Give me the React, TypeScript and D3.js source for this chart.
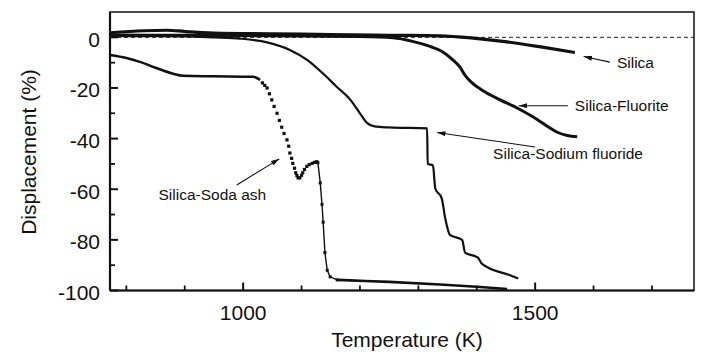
import * as d3 from "d3";

// Silica
const silicaT = [772, 830, 870, 900, 950, 1050, 1150, 1250, 1337, 1394, 1452, 1510, 1568];
const silicaD = [1.8, 2.6, 2.8, 2.3, 1.7, 1.4, 1.1, 0.8, 0.6, -0.3, -1.8, -3.8, -6.0];

// Silica-Fluorite
const fluoriteT = [772, 900, 1000, 1100, 1200, 1257, 1290, 1320, 1340, 1359, 1371, 1380, 1392, 1410, 1440, 1470, 1496, 1520, 1537, 1555, 1572];
const fluoriteD = [0.9, 0.8, 0.7, 0.5, 0.3, -0.2, -1.6, -3.6, -5.5, -8.9, -11.7, -15, -18, -21, -24.7, -28, -31.4, -35, -37.4, -38.8, -39.3];

// Silica-Sodium fluoride
const nafT = [772, 900, 950, 995, 1041, 1080, 1110, 1140, 1160, 1183, 1200, 1212, 1225, 1250, 1315, 1316, 1325, 1329, 1340, 1346, 1354, 1375, 1380, 1402, 1409, 1457, 1471];
const nafD = [0.5, 0.4, 0, -0.5, -2, -5, -9, -15, -19.5, -24.5, -30, -33.8, -35.2, -35.6, -36, -50, -50.6, -59.7, -63.6, -71.5, -78, -80, -85, -87, -89.5, -94, -95.3];

// Silica-Soda ash (solid start, dotted fall, thin drop, solid tail)
const sodaStartT = [772, 800, 823, 850, 880, 897, 950, 1017, 1029];
const sodaStartD = [-7, -8.2, -9.7, -12, -14.4, -15.2, -15.4, -15.6, -16.8];
const sodaDotsT = [1033, 1037, 1041, 1045, 1049, 1053, 1058, 1062, 1066, 1070, 1075, 1078, 1080, 1083, 1085, 1088, 1090, 1092, 1094, 1097, 1100, 1102, 1105, 1109, 1113, 1118, 1122, 1126];
const sodaDotsD = [-18, -19, -20, -22.3, -24.7, -27.3, -30, -32.8, -35.5, -38, -40.5, -43, -45.7, -47.8, -49.8, -51.7, -53.5, -54.6, -55.5, -55.5, -54.5, -53.5, -52.2, -51, -50.3, -49.8, -49.4, -49.2];
const sodaDropT = [1126, 1128, 1132, 1135, 1137, 1140, 1144, 1149, 1161];
const sodaDropD = [-49.2, -49.5, -57.5, -66, -73, -85, -92, -94.6, -95.8];
const sodaEndT = [1161, 1183, 1250, 1337, 1400, 1452];
const sodaEndD = [-95.8, -96, -96.6, -97.6, -98.5, -99.4];

const xMajor = [1000, 1500];
const xMinor = [800, 900, 1100, 1200, 1300, 1400, 1600, 1700];
const yMajor = [0, -20, -40, -60, -80, -100];
const yMinor = [-10, -30, -50, -70, -90];

// label anchor (x, y), arrow tail (ax, ay) and head (hx, hy), in data units
const labels = [
  { text: "Silica", x: 1640, y: -12, ax: 1628, ay: -9.8, hx: 1583, hy: -7.6 },
  { text: "Silica-Fluorite", x: 1568, y: -29, ax: 1556, ay: -27, hx: 1472, hy: -27 },
  { text: "Silica-Sodium fluoride", x: 1428, y: -48, ax: 1500, ay: -43.3, hx: 1332, hy: -37.6 },
  { text: "Silica-Soda ash", x: 855, y: -64.3, ax: 989, ay: -58.3, hx: 1062, hy: -48 },
];

const W = 701;
const H = 360;
const left = 110, right = 694, top = 12, bottom = 290.5;
const font = "'Liberation Sans', Arial, Helvetica, sans-serif";

export default function App() {
  const x = d3.scaleLinear().domain([772, 1772]).range([left, right]);
  const y = d3.scaleLinear().domain([-100, 10]).range([bottom, top]);

  const smooth = (ts: number[], ds: number[]) =>
    d3.line<number>().x((t) => x(t)).y((_, i) => y(ds[i])).curve(d3.curveMonotoneX)(ts) || "";
  const straight = (ts: number[], ds: number[]) =>
    d3.line<number>().x((t) => x(t)).y((_, i) => y(ds[i]))(ts) || "";

  return (
    <div style={{ position: "absolute", left: 0, top: 0 }}>
      <svg width={W} height={H} style={{ display: "block", background: "#fff" }}>
        <defs>
          <marker id="ah" viewBox="0 0 10 6" refX="10" refY="3" markerWidth="9" markerHeight="5" orient="auto-start-reverse" markerUnits="userSpaceOnUse">
            <path d="M0,0 L10,3 L0,6 Z" fill="#111" />
          </marker>
        </defs>

        {/* zero reference */}
        <line x1={left} x2={right} y1={y(0)} y2={y(0)} stroke="#222" strokeWidth={1} strokeDasharray="4,3" />

        {/* frame */}
        <rect x={left} y={top} width={right - left} height={bottom - top} fill="none" stroke="#111" strokeWidth={1.5} />
        <line x1={left} x2={right} y1={bottom} y2={bottom} stroke="#111" strokeWidth={2.2} />
        <line x1={left} x2={left} y1={top} y2={bottom} stroke="#111" strokeWidth={2.2} />

        {/* ticks */}
        {xMajor.map((t) => (
          <line key={"xM" + t} x1={x(t)} x2={x(t)} y1={bottom} y2={bottom - 8} stroke="#111" strokeWidth={2} />
        ))}
        {xMinor.map((t) => (
          <line key={"xm" + t} x1={x(t)} x2={x(t)} y1={bottom} y2={bottom - 5} stroke="#111" strokeWidth={1.8} />
        ))}
        {yMajor.map((v) => (
          <line key={"yM" + v} x1={left} x2={left + 8} y1={y(v)} y2={y(v)} stroke="#111" strokeWidth={2} />
        ))}
        {yMinor.map((v) => (
          <line key={"ym" + v} x1={left} x2={left + 5} y1={y(v)} y2={y(v)} stroke="#111" strokeWidth={1.8} />
        ))}

        {/* tick labels */}
        {yMajor.map((v) => (
          <text key={"yl" + v} x={100} y={y(v) + 9.5} textAnchor="end" fontFamily={font} fontSize={21} fill="#111">
            {v}
          </text>
        ))}
        {xMajor.map((t) => (
          <text key={"xl" + t} x={x(t)} y={320} textAnchor="middle" fontFamily={font} fontSize={21} fill="#111">
            {t}
          </text>
        ))}

        {/* axis titles */}
        <text x={407} y={347} textAnchor="middle" fontFamily={font} fontSize={21} fill="#111">
          Temperature (K)
        </text>
        <text transform="translate(36,152) rotate(-90)" textAnchor="middle" fontFamily={font} fontSize={21} fill="#111">
          Displacement (%)
        </text>

        {/* series */}
        <path d={smooth(silicaT, silicaD)} fill="none" stroke="#111" strokeWidth={3.2} strokeLinejoin="round" />
        <path d={smooth(fluoriteT, fluoriteD)} fill="none" stroke="#111" strokeWidth={3} strokeLinejoin="round" />
        <path d={smooth(nafT, nafD)} fill="none" stroke="#111" strokeWidth={2.2} strokeLinejoin="round" />
        <path d={smooth(sodaStartT, sodaStartD)} fill="none" stroke="#111" strokeWidth={2.6} strokeLinejoin="round" />
        {sodaDotsT.map((t, i) => (
          <rect key={"sd" + i} x={x(t) - 1.6} y={y(sodaDotsD[i]) - 1.6} width={3.2} height={3.2} fill="#111" />
        ))}
        <path d={straight(sodaDropT, sodaDropD)} fill="none" stroke="#111" strokeWidth={1.4} />
        {sodaDropT.map((t, i) => (
          <rect key={"sp" + i} x={x(t) - 1.5} y={y(sodaDropD[i]) - 1.5} width={3} height={3} fill="#111" />
        ))}
        <path d={smooth(sodaEndT, sodaEndD)} fill="none" stroke="#111" strokeWidth={2.6} strokeLinejoin="round" />

        {/* annotations */}
        {labels.map((l) => (
          <g key={l.text}>
            <line x1={x(l.ax)} y1={y(l.ay)} x2={x(l.hx)} y2={y(l.hy)} stroke="#111" strokeWidth={1.1} markerEnd="url(#ah)" />
            <text x={x(l.x)} y={y(l.y)} fontFamily={font} fontSize={15.5} fill="#111">
              {l.text}
            </text>
          </g>
        ))}
      </svg>
    </div>
  );
}
